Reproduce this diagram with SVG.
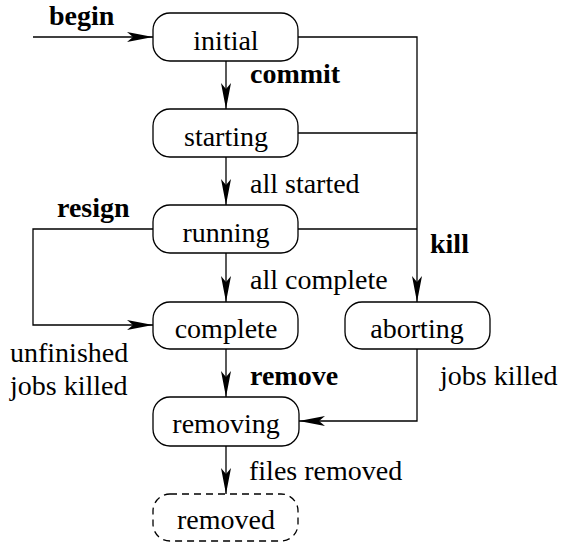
<svg xmlns="http://www.w3.org/2000/svg" width="564" height="543" viewBox="0 0 564 543">
  <style>
    .box { fill: #ffffff; stroke: #000000; stroke-width: 1.3; }
    .dashed { stroke-dasharray: 7 5; }
    .edge { fill: none; stroke: #000000; stroke-width: 1.3; }
    text { font-family: "Liberation Serif", "Times New Roman", Times, "Nimbus Roman", "Noto Serif", "DejaVu Serif", FreeSerif, serif; font-size: 28px; fill: #000000; }
    .name { text-anchor: middle; }
    .bold { font-weight: bold; }
  </style>
  <defs>
    <marker id="arrow" markerWidth="26" markerHeight="12" refX="26" refY="6" orient="auto" markerUnits="userSpaceOnUse">
      <path d="M0,1 L26,6 L0,11 L6,6 Z" fill="#000000"/>
    </marker>
  </defs>

  <g id="connectors">
    <!-- begin -->
    <path class="edge" d="M33,37 H153" marker-end="url(#arrow)"/>
    <!-- commit -->
    <path class="edge" d="M226,61 V109" marker-end="url(#arrow)"/>
    <!-- all started -->
    <path class="edge" d="M226,157 V205" marker-end="url(#arrow)"/>
    <!-- all complete -->
    <path class="edge" d="M226,253 V302" marker-end="url(#arrow)"/>
    <!-- remove -->
    <path class="edge" d="M226,349 V397" marker-end="url(#arrow)"/>
    <!-- files removed -->
    <path class="edge" d="M226,446 V494" marker-end="url(#arrow)"/>
    <!-- kill, joined from initial, starting and running -->
    <path class="edge" d="M298,37 H417 V302" marker-end="url(#arrow)"/>
    <path class="edge" d="M298,133 H417"/>
    <path class="edge" d="M298,229 H417"/>
    <!-- resign -->
    <path class="edge" d="M153,229 H33 V325 H153" marker-end="url(#arrow)"/>
    <!-- jobs killed -->
    <path class="edge" d="M417,349 V421 H299" marker-end="url(#arrow)"/>
  </g>

  <g id="initial">
    <rect class="box" x="153" y="13" width="145" height="48" rx="17"/>
    <text class="name" x="226" y="50">initial</text>
  </g>
  <g id="starting">
    <rect class="box" x="153" y="109" width="145" height="48" rx="17"/>
    <text class="name" x="226" y="146">starting</text>
  </g>
  <g id="running">
    <rect class="box" x="153" y="205" width="145" height="48" rx="17"/>
    <text class="name" x="226" y="242">running</text>
  </g>
  <g id="complete">
    <rect class="box" x="153" y="302" width="145" height="47" rx="17"/>
    <text class="name" x="226" y="338">complete</text>
  </g>
  <g id="aborting">
    <rect class="box" x="345" y="302" width="145" height="47" rx="17"/>
    <text class="name" x="417" y="338">aborting</text>
  </g>
  <g id="removing">
    <rect class="box" x="153" y="397" width="146" height="49" rx="17"/>
    <text class="name" x="226" y="433">removing</text>
  </g>
  <g id="removed">
    <rect class="box dashed" x="153" y="494" width="145" height="47" rx="17"/>
    <text class="name" x="226" y="529">removed</text>
  </g>

  <g id="labels">
    <text class="bold" x="49" y="25">begin</text>
    <text class="bold" x="250" y="83">commit</text>
    <text x="250" y="193">all started</text>
    <text class="bold" x="57" y="217">resign</text>
    <text x="250" y="289">all complete</text>
    <text class="bold" x="430" y="253">kill</text>
    <text x="10" y="362">unfinished</text>
    <text x="10" y="395">jobs killed</text>
    <text class="bold" x="250" y="385">remove</text>
    <text x="440" y="385">jobs killed</text>
    <text x="249" y="480">files removed</text>
  </g>
</svg>
